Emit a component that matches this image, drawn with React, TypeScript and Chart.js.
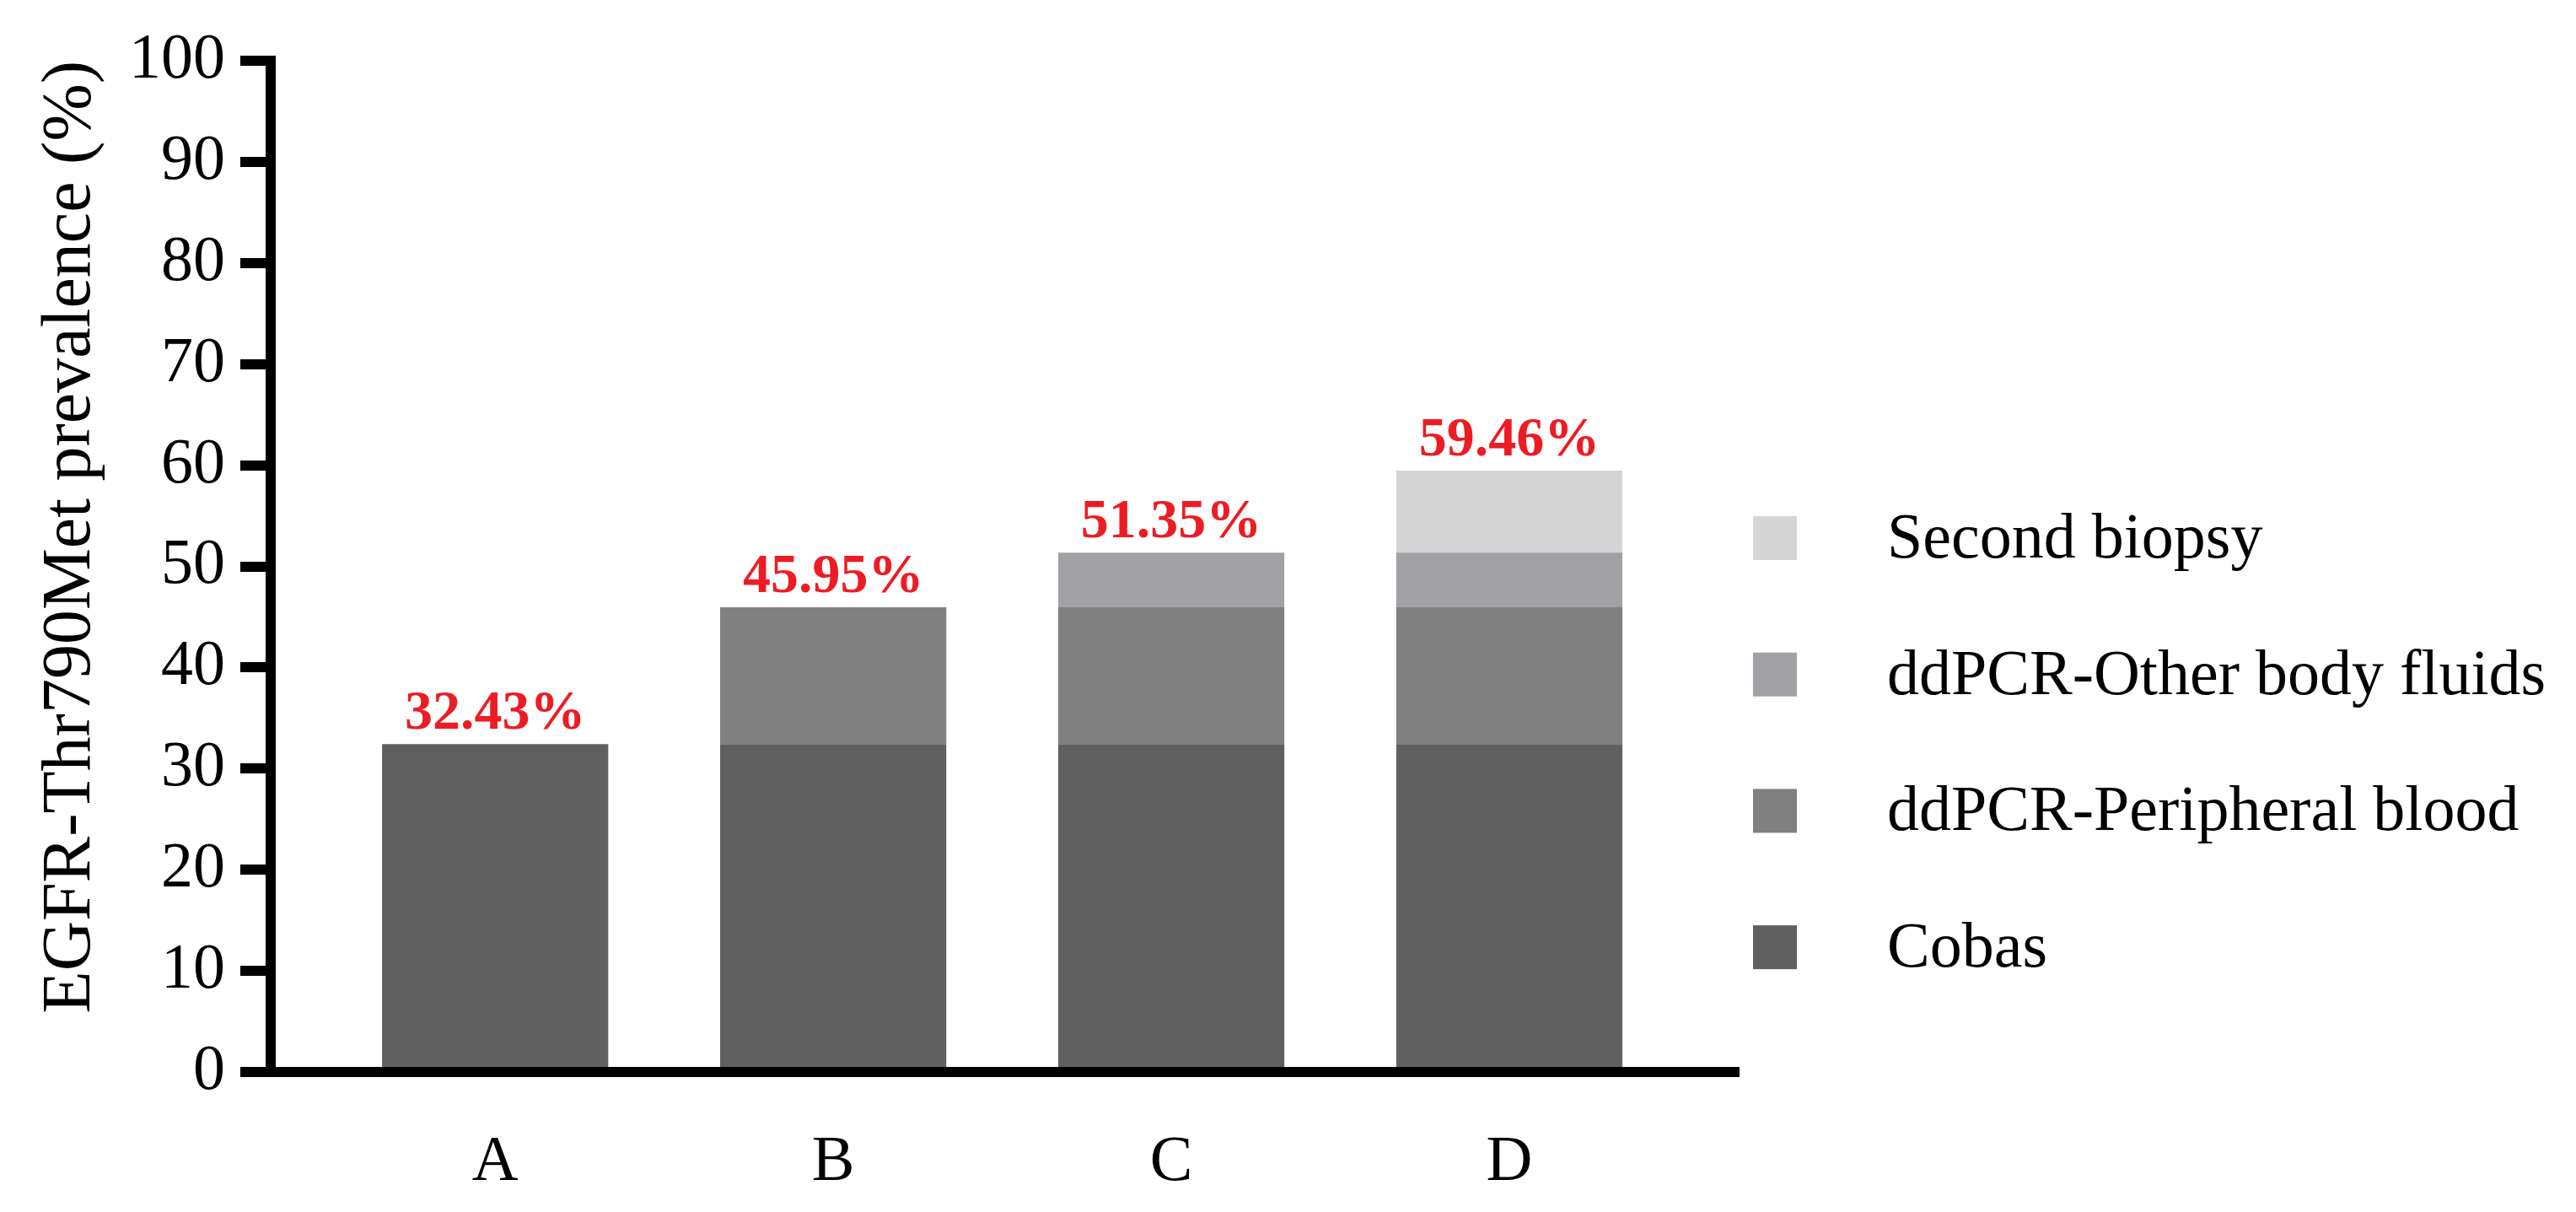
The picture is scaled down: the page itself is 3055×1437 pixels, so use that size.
import React, { useEffect, useRef } from "react";
import { Chart, registerables } from "chart.js";

Chart.register(...registerables);

// ---- data ----
const categories = ["A", "B", "C", "D"];
const seriesNames = [
  "Cobas",
  "ddPCR-Peripheral blood",
  "ddPCR-Other body fluids",
  "Second biopsy",
];
const cobas = [32.43, 32.43, 32.43, 32.43];
const peripheralBlood = [0, 13.52, 13.52, 13.52];
const otherBodyFluids = [0, 0, 5.4, 5.4];
const secondBiopsy = [0, 0, 0, 8.11];
const totalLabels = ["32.43%", "45.95%", "51.35%", "59.46%"];
const yMin = 0;
const yMax = 100;
const yStep = 10;

// ---- styles ----
const COLORS = ["#606060", "#808080", "#a1a1a5", "#d5d5d5"];
const FONT = "'Liberation Serif', 'Times New Roman', serif";
const W = 3055;
const H = 1437;

const LEGEND = { x: 2079, top: 612, step: 161.7, box: 52, textX: 2238, size: 76 };

const totalLabelPlugin = {
  id: "totalLabels",
  afterDatasetsDraw(chart: any) {
    const { ctx, scales } = chart;
    const series = [cobas, peripheralBlood, otherBodyFluids, secondBiopsy];
    ctx.save();
    ctx.font = `bold 66px ${FONT}`;
    ctx.fillStyle = "#ed1c24";
    ctx.textAlign = "center";
    ctx.textBaseline = "alphabetic";
    categories.forEach((_, i) => {
      const total = series.reduce((s, arr) => s + arr[i], 0);
      const x = scales.x.getPixelForValue(i);
      const y = scales.y.getPixelForValue(total);
      ctx.fillText(totalLabels[i], x, y - 18);
    });
    ctx.restore();
  },
};

const legendPlugin = {
  id: "sideLegend",
  afterDraw(chart: any) {
    const { ctx } = chart;
    const items = chart.data.datasets
      .map((ds: any) => ({ label: ds.label, color: ds.backgroundColor }))
      .reverse();
    ctx.save();
    ctx.font = `${LEGEND.size}px ${FONT}`;
    ctx.textBaseline = "middle";
    ctx.textAlign = "left";
    items.forEach((it: any, k: number) => {
      const y = LEGEND.top + k * LEGEND.step;
      ctx.fillStyle = it.color;
      ctx.fillRect(LEGEND.x, y, LEGEND.box, LEGEND.box);
      ctx.fillStyle = "#000";
      ctx.fillText(it.label, LEGEND.textX, y + LEGEND.box / 2 + 3);
    });
    ctx.restore();
  },
};

export default function App() {
  const canvasRef = useRef<HTMLCanvasElement | null>(null);

  useEffect(() => {
    if (!canvasRef.current) return;
    const series = [cobas, peripheralBlood, otherBodyFluids, secondBiopsy];
    const chart = new Chart(canvasRef.current, {
      type: "bar",
      data: {
        datasets: series.map((arr, s) => ({
          label: seriesNames[s],
          data: categories.map((_, i) => ({ x: i, y: arr[i] })),
          backgroundColor: COLORS[s],
          borderWidth: 0,
          categoryPercentage: 1,
          barPercentage: 0.669,
        })),
      },
      options: {
        animation: false,
        responsive: false,
        devicePixelRatio: 1,
        layout: { padding: { top: 72, right: 992, bottom: 0, left: 0 } },
        plugins: {
          legend: { display: false },
          tooltip: { enabled: false },
          title: { display: false },
        },
        scales: {
          x: {
            type: "linear",
            stacked: true,
            offset: false,
            min: -0.664,
            max: 3.681,
            afterBuildTicks: (scale: any) => {
              scale.ticks = categories.map((_, i) => ({ value: i }));
            },
            afterFit: (scale: any) => {
              scale.height = 166;
            },
            grid: { display: false, drawTicks: false, lineWidth: 0, offset: false },
            border: { display: true, color: "#000", width: 12 },
            ticks: {
              autoSkip: false,
              padding: 62,
              color: "#000",
              font: { family: FONT, size: 76 },
              callback: (v: any) => categories[v] ?? "",
            },
          },
          y: {
            type: "linear",
            stacked: true,
            min: yMin,
            max: yMax,
            afterFit: (scale: any) => {
              scale.width = 321;
            },
            grid: {
              display: true,
              drawOnChartArea: false,
              drawTicks: true,
              tickLength: 36,
              lineWidth: 12,
              color: "#000",
            },
            border: { display: true, color: "#000", width: 12 },
            ticks: {
              stepSize: yStep,
              padding: 18,
              color: "#000",
              font: { family: FONT, size: 76 },
            },
            title: {
              display: true,
              text: "EGFR-Thr790Met prevalence (%)",
              align: "end",
              color: "#000",
              font: { family: FONT, size: 82 },
              padding: { top: 35, bottom: 0 },
            },
          },
        },
      },
      plugins: [totalLabelPlugin, legendPlugin],
    } as any);
    return () => chart.destroy();
  }, []);

  return (
    <div
      style={{
        position: "absolute",
        left: 0,
        top: 0,
        width: W,
        height: H,
        background: "#fff",
      }}
    >
      <canvas ref={canvasRef} width={W} height={H} style={{ display: "block" }} />
    </div>
  );
}
